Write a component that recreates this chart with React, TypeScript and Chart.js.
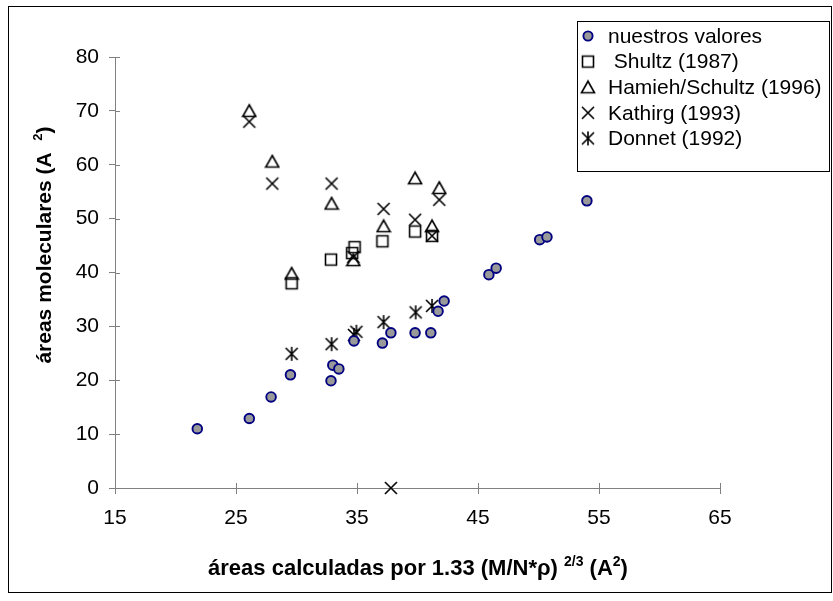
import React, { useEffect, useRef } from 'react';
import { Chart, registerables } from 'chart.js';

Chart.register(...registerables);

const FONT = '"Liberation Sans", Arial, Helvetica, sans-serif';

const xTickValues = [15, 25, 35, 45, 55, 65];
const yTickValues = [0, 10, 20, 30, 40, 50, 60, 70, 80];

const seriesNames = [
  'nuestros valores',
  ' Shultz (1987)',
  'Hamieh/Schultz (1996)',
  'Kathirg (1993)',
  'Donnet (1992)',
];

const nuestrosX = [21.8, 26.1, 27.9, 29.5, 32.85, 33.0, 33.5, 34.75, 37.1, 37.8, 39.8, 41.1, 41.7, 42.2, 45.9, 46.5, 50.1, 50.7, 54.0];
const nuestrosY = [11.0, 12.9, 16.9, 21.0, 19.9, 22.8, 22.1, 27.3, 26.9, 28.8, 28.8, 28.8, 32.8, 34.7, 39.6, 40.8, 46.1, 46.6, 53.3];

const shultzX = [29.6, 32.85, 34.6, 34.8, 37.1, 39.8, 41.2];
const shultzY = [38.0, 42.4, 43.6, 44.7, 45.8, 47.6, 46.8];

const hamiehX = [26.1, 28.0, 29.6, 32.9, 34.7, 37.2, 39.8, 41.2, 41.8];
const hamiehY = [70.0, 60.6, 39.8, 52.8, 42.3, 48.6, 57.5, 48.6, 55.7];

const kathirgX = [26.1, 28.0, 32.9, 34.7, 37.2, 39.8, 41.2, 41.8, 37.8];
const kathirgY = [68.0, 56.5, 56.5, 42.9, 51.8, 49.8, 46.8, 53.5, 0.0];

const donnetX = [29.6, 32.9, 34.75, 34.95, 37.2, 39.85, 41.2];
const donnetY = [24.9, 26.7, 28.4, 29.0, 30.8, 32.6, 33.8];

const xTitleParts = [
  { t: 'áreas calculadas por 1.33 (M/N*ρ) ', sup: false },
  { t: '2/3', sup: true },
  { t: ' (A', sup: false },
  { t: '2', sup: true },
  { t: ')', sup: false },
];
const yTitleParts = [
  { t: 'áreas moleculares (A  ', sup: false },
  { t: '2', sup: true },
  { t: ')', sup: false },
];

function makeMarker(kind: string): HTMLCanvasElement {
  const s = 16;
  const c = document.createElement('canvas');
  c.width = s;
  c.height = s;
  const g = c.getContext('2d')!;
  g.strokeStyle = '#000';
  g.lineWidth = 1.6;
  const m = s / 2;
  g.beginPath();
  if (kind === 'square') {
    g.rect(m - 5.5, m - 5.5, 11, 11);
  } else if (kind === 'triangle') {
    g.moveTo(m, m - 6);
    g.lineTo(m + 6.5, m + 5.5);
    g.lineTo(m - 6.5, m + 5.5);
    g.closePath();
  } else if (kind === 'x') {
    g.moveTo(m - 6, m - 6);
    g.lineTo(m + 6, m + 6);
    g.moveTo(m + 6, m - 6);
    g.lineTo(m - 6, m + 6);
  } else if (kind === 'star') {
    g.moveTo(m - 6, m - 6);
    g.lineTo(m + 6, m + 6);
    g.moveTo(m + 6, m - 6);
    g.lineTo(m - 6, m + 6);
    g.moveTo(m, m - 7);
    g.lineTo(m, m + 7);
  }
  g.stroke();
  return c;
}

function drawRich(ctx: CanvasRenderingContext2D, parts: { t: string; sup: boolean }[], cx: number, cy: number, size: number) {
  const supSize = Math.round(size * 0.62);
  const widths = parts.map((p) => {
    ctx.font = `bold ${p.sup ? supSize : size}px ${FONT}`;
    return ctx.measureText(p.t).width;
  });
  const total = widths.reduce((a, b) => a + b, 0);
  let x = cx - total / 2;
  const base = cy + size * 0.36;
  ctx.textAlign = 'left';
  ctx.textBaseline = 'alphabetic';
  ctx.fillStyle = '#000';
  parts.forEach((p, i) => {
    ctx.font = `bold ${p.sup ? supSize : size}px ${FONT}`;
    ctx.fillText(p.t, x, p.sup ? base - size * 0.4 : base);
    x += widths[i];
  });
}

export default function App() {
  const ref = useRef<HTMLCanvasElement>(null);

  useEffect(() => {
    const canvas = ref.current!;
    const mk = {
      square: makeMarker('square'),
      triangle: makeMarker('triangle'),
      x: makeMarker('x'),
      star: makeMarker('star'),
    };
    const pts = (xs: number[], ys: number[]) => xs.map((x, i) => ({ x, y: ys[i] }));

    const datasets: any[] = [
      {
        label: seriesNames[0],
        data: pts(nuestrosX, nuestrosY),
        pointStyle: 'circle',
        pointRadius: 4.8,
        pointBackgroundColor: '#999999',
        pointBorderColor: '#000080',
        pointBorderWidth: 1.9,
        clip: false,
      },
      { label: seriesNames[1], data: pts(shultzX, shultzY), pointStyle: mk.square, pointRadius: 7, clip: false },
      { label: seriesNames[2], data: pts(hamiehX, hamiehY), pointStyle: mk.triangle, pointRadius: 7, clip: false },
      { label: seriesNames[3], data: pts(kathirgX, kathirgY), pointStyle: mk.x, pointRadius: 7, clip: false },
      { label: seriesNames[4], data: pts(donnetX, donnetY), pointStyle: mk.star, pointRadius: 7, clip: false },
    ];

    const extras = {
      id: 'extras',
      afterDraw(chart: any) {
        const ctx: CanvasRenderingContext2D = chart.ctx;
        const xs = chart.scales.x;
        const ys = chart.scales.y;
        const area = chart.chartArea;
        ctx.save();
        // inner halves of the crossing tick marks
        ctx.strokeStyle = '#808080';
        ctx.lineWidth = 1;
        ctx.beginPath();
        xTickValues.forEach((v) => {
          const px = Math.round(xs.getPixelForValue(v)) + 0.5;
          ctx.moveTo(px, area.bottom);
          ctx.lineTo(px, area.bottom - 5);
        });
        yTickValues.forEach((v) => {
          const py = Math.round(ys.getPixelForValue(v)) + 0.5;
          ctx.moveTo(area.left, py);
          ctx.lineTo(area.left + 5, py);
        });
        ctx.stroke();

        // axis titles
        drawRich(ctx, xTitleParts, 409, 560, 22);
        ctx.save();
        ctx.translate(34, 238);
        ctx.rotate(-Math.PI / 2);
        drawRich(ctx, yTitleParts, 0, 0, 21);
        ctx.restore();

        // legend
        const bx = 568, by = 14, bw = 252, bh = 150;
        ctx.fillStyle = '#fff';
        ctx.fillRect(bx, by, bw, bh);
        ctx.strokeStyle = '#000';
        ctx.lineWidth = 1;
        ctx.strokeRect(bx + 0.5, by + 0.5, bw, bh);
        ctx.font = `21px ${FONT}`;
        ctx.textBaseline = 'middle';
        ctx.textAlign = 'left';
        ctx.fillStyle = '#000';
        const imgs = [null, mk.square, mk.triangle, mk.x, mk.star];
        seriesNames.forEach((name, i) => {
          const cy = 29 + i * 25.6;
          const mx = 579;
          if (i === 0) {
            ctx.beginPath();
            ctx.arc(mx, cy, 4.6, 0, Math.PI * 2);
            ctx.fillStyle = '#999999';
            ctx.fill();
            ctx.strokeStyle = '#000080';
            ctx.lineWidth = 1.9;
            ctx.stroke();
            ctx.fillStyle = '#000';
          } else {
            const im = imgs[i] as HTMLCanvasElement;
            ctx.drawImage(im, mx - im.width / 2, cy - im.height / 2);
          }
          ctx.fillText(name, 599, cy + 1);
        });
        ctx.restore();
      },
    };

    const tickFont = { family: FONT, size: 21 };
    const chart = new Chart(canvas, {
      type: 'scatter',
      data: { datasets },
      options: {
        animation: false,
        responsive: false,
        events: [],
        layout: { padding: { top: 50, right: 111, bottom: 0, left: 0 } },
        plugins: { legend: { display: false }, tooltip: { enabled: false } },
        scales: {
          x: {
            type: 'linear',
            min: 15,
            max: 65,
            afterFit: (s: any) => {
              s.height = 104;
            },
            afterBuildTicks: (s: any) => {
              s.ticks = xTickValues.map((v) => ({ value: v }));
            },
            ticks: { font: tickFont, color: '#000', padding: 12, maxRotation: 0 },
            grid: { display: true, drawOnChartArea: false, drawTicks: true, tickLength: 6, color: '#808080' },
            border: { display: true, color: '#808080', width: 1 },
          },
          y: {
            type: 'linear',
            min: 0,
            max: 80,
            afterFit: (s: any) => {
              s.width = 106;
            },
            afterBuildTicks: (s: any) => {
              s.ticks = yTickValues.map((v) => ({ value: v }));
            },
            ticks: { font: tickFont, color: '#000', padding: 10 },
            grid: { display: true, drawOnChartArea: false, drawTicks: true, tickLength: 6, color: '#808080' },
            border: { display: true, color: '#808080', width: 1 },
          },
        },
      } as any,
      plugins: [extras],
    });
    return () => chart.destroy();
  }, []);

  return (
    <div
      style={{
        position: 'absolute',
        left: 8,
        top: 6,
        width: 822,
        height: 585,
        border: '1px solid #000',
        background: '#fff',
      }}
    >
      <canvas ref={ref} width={822} height={585} style={{ display: 'block', width: 822, height: 585 }} />
    </div>
  );
}
